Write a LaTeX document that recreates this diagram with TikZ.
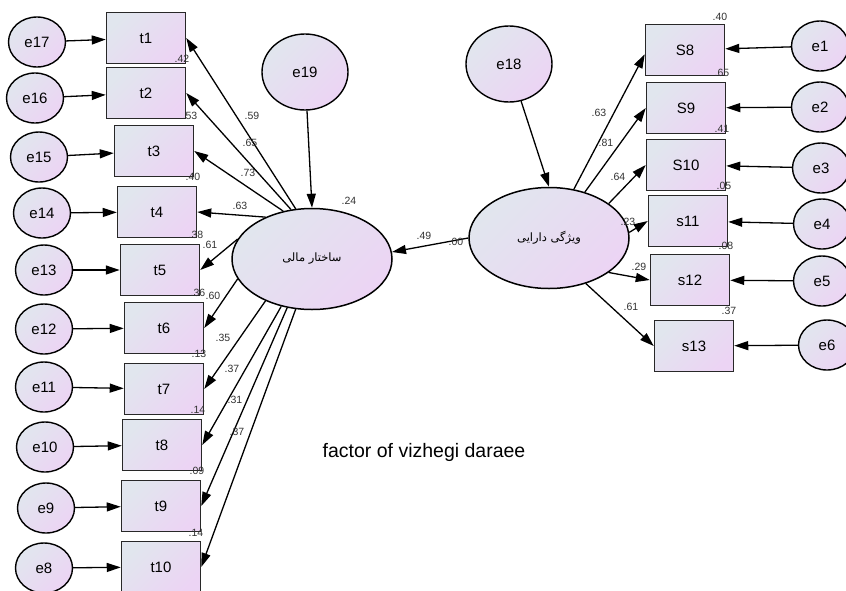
\documentclass[tikz,border=0pt]{standalone}
\usepackage{fontspec}
\setmainfont{Liberation Sans}
\newfontfamily\arabicfont[Script=Arabic]{DejaVu Sans}
\TeXXeTstate=1
\usetikzlibrary{arrows.meta,shapes.geometric}
\definecolor{shadeA}{RGB}{225,230,238}
\definecolor{shadeB}{RGB}{236,212,244}
\definecolor{edgegray}{RGB}{40,40,40}
\definecolor{valgray}{RGB}{50,50,50}
\tikzset{
  shadefill/.style={top color=shadeA, bottom color=shadeB, shading angle=45},
  obsbox/.style={rectangle, draw=edgegray, line width=1.5pt, shadefill,
    minimum width=79pt, minimum height=51pt, inner sep=0pt,
    font=\fontsize{15}{17}\selectfont},
  errnode/.style={ellipse, draw=black, line width=1.4pt, shadefill,
    minimum width=57pt, minimum height=50pt, inner sep=0pt,
    font=\fontsize{15}{17}\selectfont},
  disturb/.style={errnode, minimum width=86pt, minimum height=76pt},
  latent/.style={ellipse, draw=black, line width=1.5pt, shadefill,
    minimum width=160pt, minimum height=101pt, inner sep=0pt,
    font=\arabicfont\fontsize{11.5}{13}\selectfont},
  regpath/.style={line width=1.3pt, -{Triangle[length=14pt,width=9pt]}},
  val/.style={font=\fontsize{10.5}{12}\selectfont, text=valgray, inner sep=0pt},
}
\begin{document}
\begin{tikzpicture}[x=1pt,y=-1pt]
\useasboundingbox (0,0) rectangle (846,590);
\clip (0,0) rectangle (846,590);

% latent variables
\node[latent] (sm) at (312,259) {\beginR ساختار مالی\endR};
\node[latent] (sv) at (549,238) {\beginR ویژگی دارایی\endR};
\node[disturb] (e19) at (305,72) {e19};
\node[disturb] (e18) at (509,64) {e18};

% indicators of the first factor
\node[obsbox] (t1) at (146,38) {t1};
\node[obsbox] (t2) at (146,93) {t2};
\node[obsbox] (t3) at (154,151) {t3};
\node[obsbox] (t4) at (157,212) {t4};
\node[obsbox] (t5) at (160,270) {t5};
\node[obsbox] (t6) at (164,328) {t6};
\node[obsbox] (t7) at (164,389) {t7};
\node[obsbox] (t8) at (162,445) {t8};
\node[obsbox] (t9) at (161,506) {t9};
\node[obsbox] (t10) at (161,567) {t10};

\node[errnode] (e17) at (37,42) {e17};
\node[errnode] (e16) at (35,98) {e16};
\node[errnode] (e15) at (39,157) {e15};
\node[errnode] (e14) at (42,213) {e14};
\node[errnode] (e13) at (44,270) {e13};
\node[errnode] (e12) at (44,329) {e12};
\node[errnode] (e11) at (44,387) {e11};
\node[errnode] (e10) at (45,447) {e10};
\node[errnode] (e9) at (46,508) {e9};
\node[errnode] (e8) at (44,568) {e8};

% indicators of the second factor
\node[obsbox] (S8) at (685,50) {S8};
\node[obsbox] (S9) at (686,108) {S9};
\node[obsbox] (S10) at (686,165) {S10};
\node[obsbox] (s11) at (688,221) {s11};
\node[obsbox] (s12) at (690,280) {s12};
\node[obsbox] (s13) at (694,346) {s13};

\node[errnode] (e1) at (820,46) {e1};
\node[errnode] (e2) at (820,107) {e2};
\node[errnode] (e3) at (821,168) {e3};
\node[errnode] (e4) at (822,224) {e4};
\node[errnode] (e5) at (822,281) {e5};
\node[errnode] (e6) at (827,345) {e6};

% error paths
\foreach \e/\t in {e17/t1,e16/t2,e15/t3,e14/t4,e13/t5,e12/t6,e11/t7,e10/t8,e9/t9,e8/t10,
                   e1/S8,e2/S9,e3/S10,e4/s11,e5/s12,e6/s13}
  \draw[regpath] (\e) -- (\t);
\draw[regpath] (e19) -- (sm.north);
\draw[regpath] (e18) -- (sv.north);

% loadings of the first factor
\foreach \a/\t in {108/t1,113/t2,121/t3,138/t4,165/t5,195/t6,222/t7,237/t8,243/t9,252/t10}
  \draw[regpath] (sm.\a) -- (\t.east);

% loadings of the second factor
\draw[regpath] (sv.63) -- (S8.186);
\draw[regpath] (sv.52) -- (S9.west);
\draw[regpath] (sv.30) -- (S10.west);
\draw[regpath] (sv.4) -- (s11.west);
\draw[regpath] (sv.-30) -- (s12.west);
\draw[regpath] (sv.-51) -- (s13.west);

% structural path
\draw[regpath] (sv.west) -- (sm.5);

% estimates, first factor
\node[val] at (252,116) {.59};
\node[val] at (250,143) {.65};
\node[val] at (248,173) {.73};
\node[val] at (240,206) {.63};
\node[val] at (210,245) {.61};
\node[val] at (213,296) {.60};
\node[val] at (223,338) {.35};
\node[val] at (232,369) {.37};
\node[val] at (235,400) {.31};
\node[val] at (237,432) {.37};
\node[val] at (182,59) {.42};
\node[val] at (190,116) {.53};
\node[val] at (193,177) {.40};
\node[val] at (196,235) {.38};
\node[val] at (198,293) {.36};
\node[val] at (199,354) {.13};
\node[val] at (198,410) {.14};
\node[val] at (197,471) {.09};
\node[val] at (196,533) {.14};
\node[val] at (349,201) {.24};
\node[val] at (424,236) {.49};
\node[val] at (456,242) {.00};

% estimates, second factor
\node[val] at (720,17) {.40};
\node[val] at (722,73) {.65};
\node[val] at (722,129) {.41};
\node[val] at (724,186) {.05};
\node[val] at (726,246) {.08};
\node[val] at (729,311) {.37};
\node[val] at (599,113) {.63};
\node[val] at (606,143) {.81};
\node[val] at (618,177) {.64};
\node[val] at (628,222) {.23};
\node[val] at (639,267) {.29};
\node[val] at (631,307) {.61};

% caption
\node[font=\fontsize{19.5}{21}\selectfont, inner sep=0pt] (cap) at (424,452) {factor of vizhegi daraee};
\end{tikzpicture}
\end{document}
